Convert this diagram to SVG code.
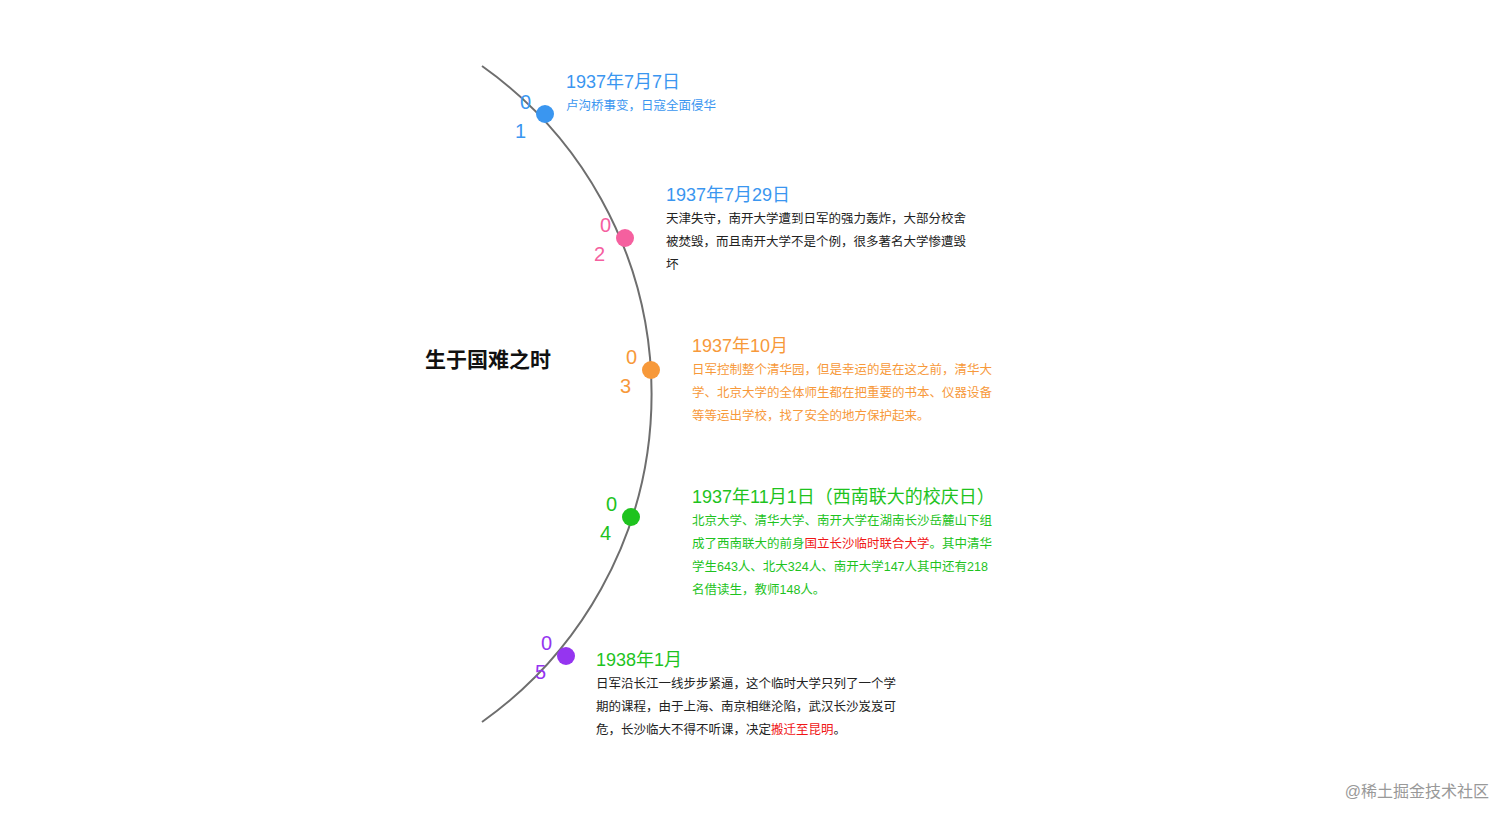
<svg xmlns="http://www.w3.org/2000/svg" width="1512" height="823" viewBox="0 0 1512 823">
<style>
text{font-family:"Liberation Sans","Noto Sans CJK SC",sans-serif}
.num{font-size:20px}
.date{font-size:18px}
.desc{font-size:12.5px}
.blue{fill:#3a96f0}.pink{fill:#f5609f}.orange{fill:#f7993a}.green{fill:#1ec31e}.purple{fill:#9535f0}.red{fill:#f01616}.black{fill:#222}
</style>
<rect width="1512" height="823" fill="#fff"/>
<g id="connectors"><path d="M482,66 A402,402 0 0,1 482,722" fill="none" stroke="#6e6e6e" stroke-width="2"/></g>
<text id="title" x="425" y="367" font-size="21" font-weight="bold" fill="#111">生于国难之时</text>
<g id="n1"><circle cx="545" cy="114" r="9" class="blue"/><text class="num blue" x="520" y="109">0</text><text class="num blue" x="515" y="138">1</text>
<text class="date blue" x="566" y="88">1937年7月7日</text><text class="desc blue" x="566" y="110">卢沟桥事变，日寇全面侵华</text></g>
<g id="n2"><circle cx="625" cy="238" r="9" class="pink"/><text class="num pink" x="600" y="232">0</text><text class="num pink" x="594" y="261">2</text>
<text class="date blue" x="666" y="201">1937年7月29日</text>
<text class="desc black" x="666" y="223">天津失守，南开大学遭到日军的强力轰炸，大部分校舍</text>
<text class="desc black" x="666" y="246">被焚毁，而且南开大学不是个例，很多著名大学惨遭毁</text>
<text class="desc black" x="666" y="269">坏</text></g>
<g id="n3"><circle cx="651" cy="370" r="9" class="orange"/><text class="num orange" x="626" y="364">0</text><text class="num orange" x="620" y="393">3</text>
<text class="date orange" x="692" y="352">1937年10月</text>
<text class="desc orange" x="692" y="374">日军控制整个清华园，但是幸运的是在这之前，清华大</text>
<text class="desc orange" x="692" y="397">学、北京大学的全体师生都在把重要的书本、仪器设备</text>
<text class="desc orange" x="692" y="420">等等运出学校，找了安全的地方保护起来。</text></g>
<g id="n4"><circle cx="631" cy="517" r="9" class="green"/><text class="num green" x="606" y="511">0</text><text class="num green" x="600" y="540">4</text>
<text class="date green" x="692" y="503">1937年11月1日（西南联大的校庆日）</text>
<text class="desc green" x="692" y="525">北京大学、清华大学、南开大学在湖南长沙岳麓山下组</text>
<text class="desc green" x="692" y="548">成了西南联大的前身<tspan class="red">国立长沙临时联合大学</tspan>。其中清华</text>
<text class="desc green" x="692" y="571">学生643人、北大324人、南开大学147人其中还有218</text>
<text class="desc green" x="692" y="594">名借读生，教师148人。</text></g>
<g id="n5"><circle cx="566" cy="656" r="9" class="purple"/><text class="num purple" x="541" y="650">0</text><text class="num purple" x="535" y="679">5</text>
<text class="date green" x="596" y="666">1938年1月</text>
<text class="desc black" x="596" y="688">日军沿长江一线步步紧逼，这个临时大学只列了一个学</text>
<text class="desc black" x="596" y="711">期的课程，由于上海、南京相继沦陷，武汉长沙岌岌可</text>
<text class="desc black" x="596" y="734">危，长沙临大不得不听课，决定<tspan class="red">搬迁至昆明</tspan>。</text></g>
<text x="1489" y="797" font-size="16" fill="#999" text-anchor="end">@稀土掘金技术社区</text>
</svg>
